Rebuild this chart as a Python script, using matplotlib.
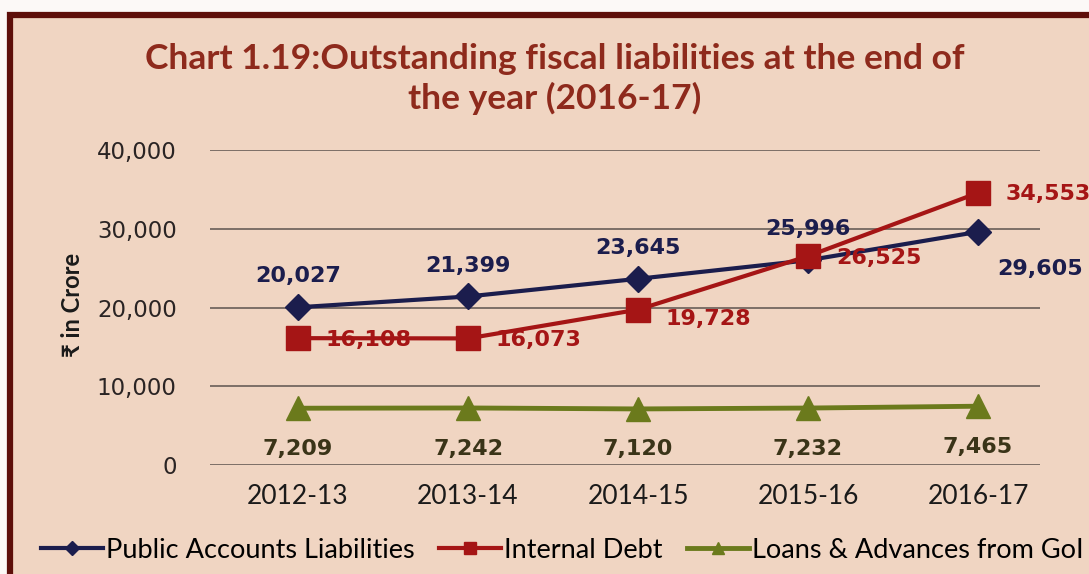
import matplotlib.pyplot as plt
from matplotlib.patches import Rectangle

# Outstanding fiscal liabilities (₹ in crore)
years = ['2012-13', '2013-14', '2014-15', '2015-16', '2016-17']
public_accounts = [20027, 21399, 23645, 25996, 29605]
internal_debt = [16108, 16073, 19728, 26525, 34553]
loans_goi = [7209, 7242, 7120, 7232, 7465]

W, H = 1089, 574
bg = '#f0d5c2'
navy = '#1b1d4d'
red = '#a51515'
olive = '#6b7a1c'

fig = plt.figure(figsize=(W / 100, H / 100), dpi=100)
fig.patch.set_facecolor('#fcf9f7')

# panel with dark maroon frame (open towards the right and bottom)
fig.patches.append(Rectangle((10 / W, -0.05), 1.1, (H - 15) / H + 0.05,
                             transform=fig.transFigure, facecolor=bg,
                             edgecolor='#5e0f0a', linewidth=4.5, zorder=-10))

ax = fig.add_axes([210 / W, (H - 465) / H, (1040 - 210) / W, (465 - 150) / H])
ax.set_facecolor('none')
x = list(range(len(years)))

ax.plot(x, loans_goi, color=olive, lw=3.5, marker='^', ms=17,
        label='Loans & Advances from GoI', zorder=3)
ax.plot(x, public_accounts, color=navy, lw=3, marker='D', ms=13,
        label='Public Accounts Liabilities', zorder=4)
ax.plot(x, internal_debt, color=red, lw=3, marker='s', ms=17,
        label='Internal Debt', zorder=5)

ax.set_ylim(0, 40000)
ax.set_xlim(-0.518, 4.365)
ax.set_yticks(range(0, 40001, 10000))
ax.set_yticklabels([f'{v:,}' for v in range(0, 40001, 10000)],
                   fontsize=16.5, color='#2a2424')
ax.set_xticks(x)
ax.set_xticklabels(years, fontsize=19, family='Lato', color='#1a1a1a')
ax.tick_params(axis='both', length=0)
ax.tick_params(axis='y', pad=24)
ax.tick_params(axis='x', pad=14)
ax.grid(axis='y', color='#7c6f67', lw=1.4)
ax.set_axisbelow(True)
for s in ax.spines.values():
    s.set_visible(False)

lab = dict(fontsize=16, fontweight='bold', zorder=6)

# data labels
for i, v in enumerate(public_accounts):
    if i < 4:
        ax.annotate(f'{v:,}', (i, v), xytext=(0, 15), textcoords='offset points',
                    ha='center', va='bottom', color=navy, **lab)
    else:
        ax.annotate(f'{v:,}', (i, v), xytext=(14, -27), textcoords='offset points',
                    ha='left', va='center', color=navy, **lab)
for i, v in enumerate(internal_debt):
    dy = -7 if i == 2 else -1
    ax.annotate(f'{v:,}', (i, v), xytext=(20, dy), textcoords='offset points',
                ha='left', va='center', color=red, **lab)
for i, v in enumerate(loans_goi):
    ax.annotate(f'{v:,}', (i, v), xytext=(0, -22), textcoords='offset points',
                ha='center', va='top', color='#3a3418', **lab)

fig.text(555 / W, (H - 79) / H,
         'Chart 1.19:Outstanding fiscal liabilities at the end of\nthe year (2016-17)',
         ha='center', va='center', fontsize=25.5, fontweight='bold', family='Lato',
         color='#8e2a1c', linespacing=1.22)

fig.text(72 / W, (H - 305) / H, '₹ in Crore', rotation=90, ha='center', va='center',
         fontsize=17, fontweight='bold', family=['Lato', 'DejaVu Sans'], color='#1a1a1a')

handles, labels = ax.get_legend_handles_labels()
order = [1, 2, 0]
leg = fig.legend([handles[i] for i in order], [labels[i] for i in order],
                 loc='center', bbox_to_anchor=(562 / W, (H - 550) / H), ncol=3,
                 frameon=False, handlelength=2.3, handletextpad=0.1, columnspacing=0.9,
                 markerscale=0.55, prop={'family': 'Lato', 'size': 19.5})

fig.savefig('out.png', dpi=100, facecolor=fig.get_facecolor())
